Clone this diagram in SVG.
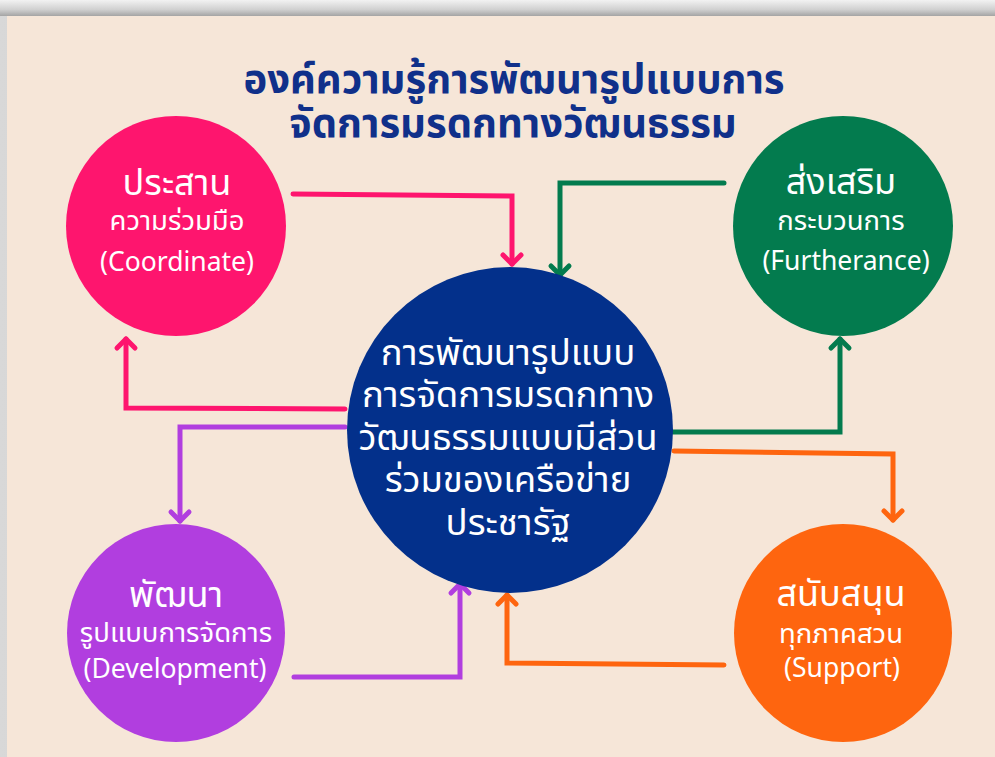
<svg xmlns="http://www.w3.org/2000/svg" width="995" height="757" viewBox="0 0 995 757">
<defs>
<linearGradient id="topsh" x1="0" y1="0" x2="0" y2="1">
<stop offset="0" stop-color="#f2f2f2"/><stop offset="0.6" stop-color="#d0d0d0"/><stop offset="1" stop-color="#a4a4a4"/>
</linearGradient>
<linearGradient id="leftsh" x1="0" y1="0" x2="1" y2="0">
<stop offset="0" stop-color="#d8d8d8"/><stop offset="1" stop-color="#a8a8a8"/>
</linearGradient>
<marker id="aPink" markerUnits="userSpaceOnUse" markerWidth="30" markerHeight="30" refX="15" refY="15" orient="auto"><path d="M6,6 L15,15 L6,24" class="ah" stroke="#FE156E"/></marker>
<marker id="aGreen" markerUnits="userSpaceOnUse" markerWidth="30" markerHeight="30" refX="15" refY="15" orient="auto"><path d="M6,6 L15,15 L6,24" class="ah" stroke="#037B4E"/></marker>
<marker id="aPurple" markerUnits="userSpaceOnUse" markerWidth="30" markerHeight="30" refX="15" refY="15" orient="auto"><path d="M6,6 L15,15 L6,24" class="ah" stroke="#B13EDF"/></marker>
<marker id="aOrange" markerUnits="userSpaceOnUse" markerWidth="30" markerHeight="30" refX="15" refY="15" orient="auto"><path d="M6,6 L15,15 L6,24" class="ah" stroke="#FE650F"/></marker>
</defs>
<style>
.ah{fill:none;stroke-width:5;stroke-linecap:round;stroke-linejoin:round}
.c{fill:none;stroke-width:5;stroke-linecap:round;stroke-linejoin:miter}
.t{font-family:"Noto Sans Thai","Noto Sans Thai UI","Noto Sans","DejaVu Sans",sans-serif;fill:#fff;text-anchor:middle}
.big{font-size:36px}
.mid{font-size:27.5px}
.lat{font-size:26.5px}
.ctr{font-size:36.5px}
.title{font-family:"Noto Sans Thai","Noto Sans Thai UI","Noto Sans",sans-serif;font-weight:bold;font-size:40px;fill:#10308A;text-anchor:middle}
</style>
<rect x="0" y="0" width="995" height="757" fill="url(#leftsh)"/>
<rect x="0" y="0" width="995" height="16" fill="url(#topsh)"/>
<rect x="7" y="16" width="988" height="741" fill="#F6E6D8"/>

<g id="title">
<text class="title" x="514" y="93">องค์ความรู้การพัฒนารูปแบบการ</text>
<text class="title" x="513" y="137">จัดการมรดกทางวัฒนธรรม</text>
</g>

<g id="connectors">
<polyline class="c" stroke="#FE156E" points="293,194 512,196 512,264" marker-end="url(#aPink)"/>
<polyline class="c" stroke="#037B4E" points="724,183 560,183 560,275" marker-end="url(#aGreen)"/>
<polyline class="c" stroke="#FE156E" points="345,409 126,408 126,339" marker-end="url(#aPink)"/>
<polyline class="c" stroke="#B13EDF" points="345,427 180,427 180,521" marker-end="url(#aPurple)"/>
<polyline class="c" stroke="#B13EDF" points="294,677 460,677 460,584" marker-end="url(#aPurple)"/>
<polyline class="c" stroke="#FE650F" points="724,665 507,663 507,595" marker-end="url(#aOrange)"/>
<polyline class="c" stroke="#037B4E" points="673,432 840,432 840,339" marker-end="url(#aGreen)"/>
<polyline class="c" stroke="#FE650F" points="674,451 893,454 893,520" marker-end="url(#aOrange)"/>
</g>

<g id="coordinate">
<circle cx="176" cy="226" r="110" fill="#FE156E"/>
<text class="t big" x="177" y="195">ประสาน</text>
<text class="t mid" x="177" y="230">ความร่วมมือ</text>
<text class="t lat" x="177" y="271">(Coordinate)</text>
</g>

<g id="furtherance">
<circle cx="843" cy="226" r="110" fill="#037B4E"/>
<text class="t big" x="841" y="194">ส่งเสริม</text>
<text class="t mid" x="841" y="230">กระบวนการ</text>
<text class="t lat" x="846" y="270">(Furtherance)</text>
</g>

<g id="center">
<circle cx="510" cy="430" r="163" fill="#03308B"/>
<text class="t ctr" x="508" y="365">การพัฒนารูปแบบ</text>
<text class="t ctr" x="508" y="407">การจัดการมรดกทาง</text>
<text class="t ctr" x="508" y="450">วัฒนธรรมแบบมีส่วน</text>
<text class="t ctr" x="508" y="492">ร่วมของเครือข่าย</text>
<text class="t ctr" x="508" y="535">ประชารัฐ</text>
</g>

<g id="development">
<circle cx="176" cy="633" r="109" fill="#B13EDF"/>
<text class="t big" x="176" y="607">พัฒนา</text>
<text class="t mid" x="176" y="642">รูปแบบการจัดการ</text>
<text class="t lat" x="175" y="678">(Development)</text>
</g>

<g id="support">
<circle cx="843" cy="633" r="109" fill="#FE650F"/>
<text class="t big" x="841" y="606">สนับสนุน</text>
<text class="t mid" x="841" y="643">ทุกภาคสวน</text>
<text class="t lat" x="842" y="677">(Support)</text>
</g>
</svg>
